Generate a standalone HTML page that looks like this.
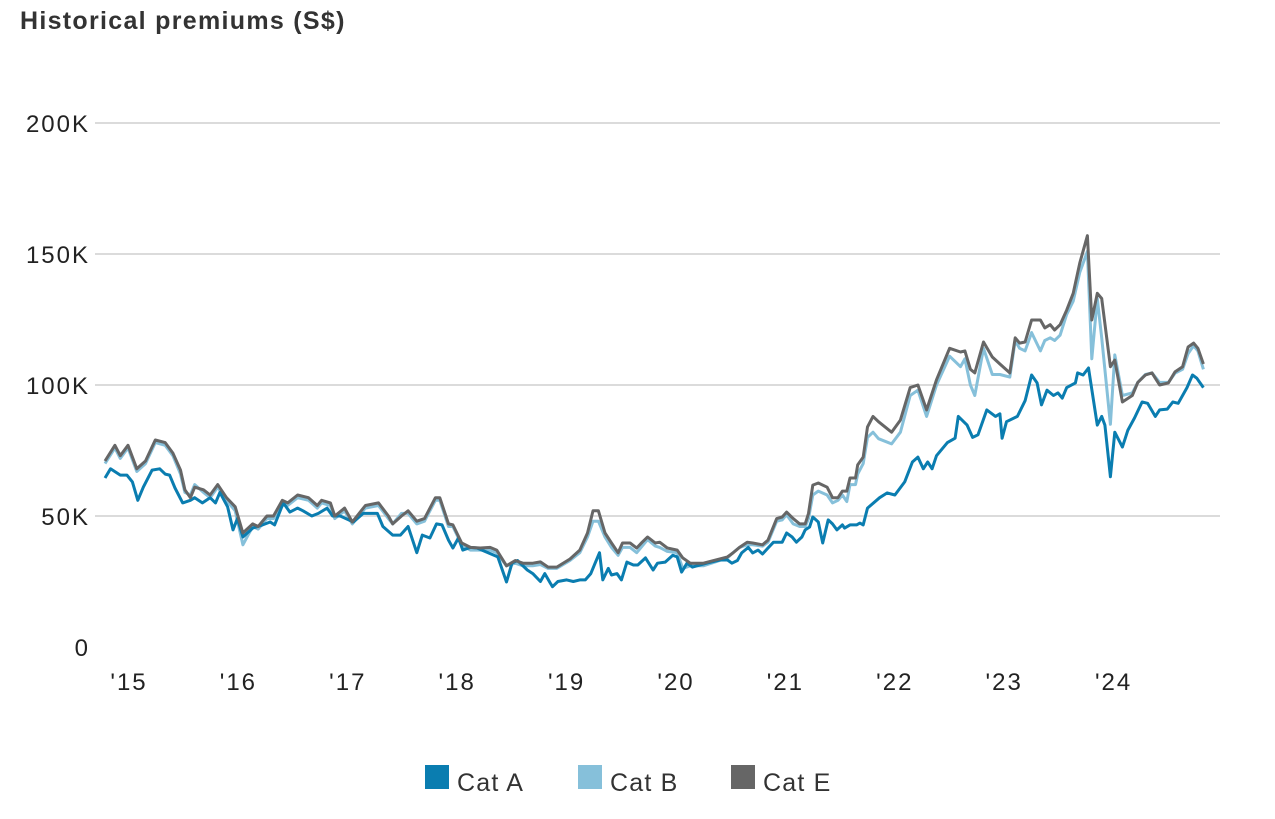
<!DOCTYPE html>
<html><head><meta charset="utf-8">
<style>
body{margin:0;background:#fff;width:1275px;height:819px;overflow:hidden;font-family:"Liberation Sans",sans-serif;}
svg{display:block}
</style></head>
<body>
<svg id="chart" width="1275" height="819" xmlns="http://www.w3.org/2000/svg">
<text x="20" y="29" font-size="25" font-weight="bold" letter-spacing="1.3" fill="#333">Historical premiums (S$)</text>
<g id="grid"></g><g id="series"></g><g id="xaxis"></g>
<g font-size="25" letter-spacing="1.2" fill="#333">
<rect x="425" y="765" width="24" height="24" fill="#0a7db0"/>
<text x="457" y="791">Cat A</text>
<rect x="578" y="765" width="24" height="24" fill="#86c0da"/>
<text x="610" y="791">Cat B</text>
<rect x="731" y="765" width="24" height="24" fill="#666"/>
<text x="763" y="791">Cat E</text>
</g>
</svg>
<script>
const yTicks=[0,50,100,150,200];
const yTickLabels=["0","50K","100K","150K","200K"];
const xYears=[2015,2016,2017,2018,2019,2020,2021,2022,2023,2024];
const xLabels=["'15","'16","'17","'18","'19","'20","'21","'22","'23","'24"];
const eT=[2014.79,2014.88,2014.93,2015.00,2015.08,2015.16,2015.25,2015.34,2015.41,2015.48,
2015.52,2015.57,2015.61,2015.69,2015.75,2015.82,2015.90,2015.98,2016.05,2016.14,
2016.19,2016.27,2016.33,2016.41,2016.46,2016.55,2016.65,2016.73,2016.77,2016.85,
2016.89,2016.98,2017.05,2017.17,2017.29,2017.38,2017.42,2017.50,2017.56,2017.64,
2017.71,2017.81,2017.85,2017.93,2017.97,2018.05,2018.13,2018.22,2018.31,2018.37,
2018.46,2018.54,2018.61,2018.70,2018.77,2018.84,
2018.92,2019.04,2019.13,2019.20,2019.25,2019.30,2019.36,2019.42,2019.48,2019.52,
2019.59,2019.65,2019.70,2019.75,2019.82,2019.86,2019.93,2020.02,2020.07,2020.14,
2020.26,2020.48,2020.53,2020.59,2020.66,2020.71,2020.80,2020.85,2020.93,2020.98,
2021.02,2021.08,2021.14,2021.19,2021.22,2021.26,2021.31,2021.39,2021.44,2021.49,
2021.53,2021.57,2021.60,2021.65,2021.67,2021.72,2021.76,2021.81,2021.86,2021.98,
2022.06,2022.15,2022.22,2022.30,2022.39,2022.51,2022.61,2022.65,2022.70,2022.74,
2022.82,2022.90,2022.97,2023.06,2023.11,2023.15,2023.20,2023.26,2023.34,2023.38,
2023.43,2023.47,2023.52,2023.58,2023.64,2023.70,2023.77,2023.81,2023.86,2023.90,
2023.98,2024.02,2024.09,2024.18,2024.23,2024.30,2024.36,2024.43,2024.51,2024.57,
2024.64,2024.69,2024.74,2024.78,2024.83];
const eV=[71,77,73,77,68,71,79,78,74,67.5,
60,57,61,60,58,62,57,53.5,43.5,47,
46,50,50,56,55,58,57,54,56,55,
50,53,47.7,54,55,50,47,50,52,48,
49,57,57,47,46.6,39.7,38,37.8,38,37,
31,33,32,32,32.5,30.5,
30.5,33.6,37,43.5,52,52,43.5,39.7,36,39.7,
39.7,37.8,40,42,39.7,40,37.8,37,34,32,
32,34.4,35.9,38,40,39.7,39,40.8,49,49.6,
51.5,49,47,47,51,61.8,62.6,61,57,57,
59.5,59.5,64.5,64.5,69.5,72.5,84,88,86,82,
86.6,99,100,90.5,102,114,112.6,113,106,104.6,
116.4,110.7,108,104.6,118,116,116.4,124.8,124.8,121.8,
123,121,123,128.6,135,146.6,157,124.8,135,133,
107,109.5,93.5,96,101,103.8,104.6,100,100.8,105,
107,114.5,116,114,108];
const bV=[70,76,72,76,67,70,78,77,73,66,
59,58,62,59,57,61,56,52,39,46,
45,49,49,55,54,57,56,53,55,54,
49,52,47,53,54,49,47,51,51,47,
48,56,56,46,46,39,37,37,37,36,
31,32,31,31,31.5,30,
30,33,36,42,48,48,42,38,35,38,
38,36,38.5,41,38.5,38,36.5,36,30,31,
31,34,36,38,39,39,38.5,40,48,48.5,
50.5,47,46,46,49,58,59.5,58,55,56,
58,55.5,62,62,66,70,80,82,79.5,77.5,
82,96,98,88,100,111,107,110,100,96,
114,104,104,103,117,114,113,120,113,117,
118,117,119,127,132,143,151,110,133,118,
85,111.5,96,97,101,104,104.6,101,101,104.5,
106,112,115,113,106];
const aT=[2014.79,2014.84,2014.93,2014.99,2015.04,2015.09,2015.14,2015.22,2015.29,2015.34,
2015.38,2015.43,2015.50,2015.57,2015.61,2015.68,2015.75,2015.80,2015.84,2015.91,
2015.96,2016.00,2016.05,2016.14,2016.23,2016.30,2016.34,2016.42,2016.48,2016.55,
2016.60,2016.68,2016.74,2016.82,2016.87,2016.94,2017.06,2017.15,2017.28,2017.33,
2017.42,2017.49,2017.56,2017.64,2017.69,2017.76,2017.82,2017.87,2017.93,2017.97,
2018.02,2018.06,2018.13,2018.19,2018.38,2018.46,2018.51,2018.56,2018.65,2018.70,
2018.77,2018.81,2018.86,
2018.88,2018.93,2019.01,2019.07,2019.13,2019.18,2019.23,2019.27,2019.31,2019.34,
2019.39,2019.42,2019.47,2019.51,2019.56,2019.62,2019.66,2019.73,2019.80,2019.84,
2019.91,2019.98,2020.02,2020.06,2020.11,2020.16,2020.29,2020.41,2020.48,2020.52,
2020.57,2020.61,2020.67,2020.71,2020.76,2020.80,2020.85,2020.90,2020.98,2021.02,
2021.07,2021.11,2021.16,2021.19,2021.23,2021.26,2021.31,2021.35,2021.40,2021.44,
2021.48,2021.53,2021.55,2021.60,2021.66,2021.69,2021.72,2021.76,
2021.87,2021.94,2022.01,2022.10,2022.17,2022.22,2022.27,2022.31,2022.35,2022.39,
2022.49,2022.56,2022.59,2022.67,2022.72,2022.77,2022.85,2022.93,2022.97,2022.99,
2023.03,2023.13,2023.20,2023.26,2023.31,2023.35,2023.40,2023.46,2023.50,2023.54,
2023.58,2023.66,2023.68,2023.73,2023.78,2023.86,2023.90,2023.93,2023.98,2024.02,
2024.09,2024.14,2024.20,2024.27,2024.32,2024.39,2024.43,2024.50,2024.55,2024.60,
2024.68,2024.73,2024.77,2024.83];
const aV=[64.5,68,65.6,65.6,63,56,61,67.5,68,66,
65.6,60.7,55,56,57,55,57,55,59,53.5,
44.7,49,42,45.4,46.6,47.7,46.6,55,51.5,53,
52,50,51,53,50,50,47.7,51,51,46,
42.7,42.7,46,36,42.7,41.6,47,46.6,40.8,37.8,
41.6,37,38,37.8,34.4,24.8,32,33,29.4,28,
25,28,24.4,
23,25,25.6,25,25.6,25.6,28,32,36,25.6,
30,27.5,28,25.6,32.4,31.3,31.3,34,29.4,32,
32.4,35,34.4,28.6,32,30.5,32,33.2,33.2,32,
33,35.9,38,35.9,37,35.5,37.8,40,40,43.5,
42,40,42,44.7,45.8,49.6,47.7,39.7,48.5,47,
44.7,46.6,45.4,46.6,46.6,47.3,46.6,53,
57,58.8,58,63,70.6,72.5,68,70.6,68,73,
78,79.7,88,84.7,80,81,90.5,88,89,79.7,
86,88,94,103.8,100.8,92.4,98,96,97,95,
99,100.8,104.6,103.8,106.5,84.7,88,84.7,65,82,
76.3,82.8,87.4,93.5,93,88,90.5,90.8,93.5,93,
99,103.8,102.6,99];

const NS='http://www.w3.org/2000/svg';
function xS(t){return 128+(t-2015)*109.4;}
function yS(v){return 647-v*524/200;}
const grid=document.getElementById('grid');
yTicks.forEach((v,i)=>{
  if(v>0){
    const l=document.createElementNS(NS,'line');
    l.setAttribute('x1',95);l.setAttribute('x2',1220);
    l.setAttribute('y1',yS(v));l.setAttribute('y2',yS(v));
    l.setAttribute('stroke','#cfcfcf');l.setAttribute('stroke-width','1.5');
    
    
    grid.appendChild(l);
  }
  const t=document.createElementNS(NS,'text');
  t.setAttribute('x',90);t.setAttribute('y',yS(v)+9);
  t.setAttribute('text-anchor','end');t.setAttribute('font-size','24');t.setAttribute('letter-spacing','2');t.setAttribute('fill','#222');
  t.textContent=yTickLabels[i];
  
  
  grid.appendChild(t);
});
const xa=document.getElementById('xaxis');
xYears.forEach((y,i)=>{
  const t=document.createElementNS(NS,'text');
  t.setAttribute('x',xS(y)+1);t.setAttribute('y',690);
  t.setAttribute('text-anchor','middle');t.setAttribute('font-size','24');t.setAttribute('letter-spacing','2');t.setAttribute('fill','#222');
  t.textContent=xLabels[i];
  
  
  xa.appendChild(t);
});
const sg=document.getElementById('series');
function draw(T,V,color,name){
  const p=document.createElementNS(NS,'path');
  let d='';
  for(let i=0;i<T.length;i++){d+=(i?'L':'M')+xS(T[i]).toFixed(1)+','+yS(V[i]).toFixed(1);}
  p.setAttribute('d',d);p.setAttribute('fill','none');p.setAttribute('stroke',color);
  p.setAttribute('stroke-width','3');p.setAttribute('stroke-linejoin','round');
  
  
  sg.appendChild(p);
}
draw(eT,bV,'#86c0da','line-cat-b');
draw(aT,aV,'#0a7db0','line-cat-a');
draw(eT,eV,'#666666','line-cat-e');
</script>
</body></html>
